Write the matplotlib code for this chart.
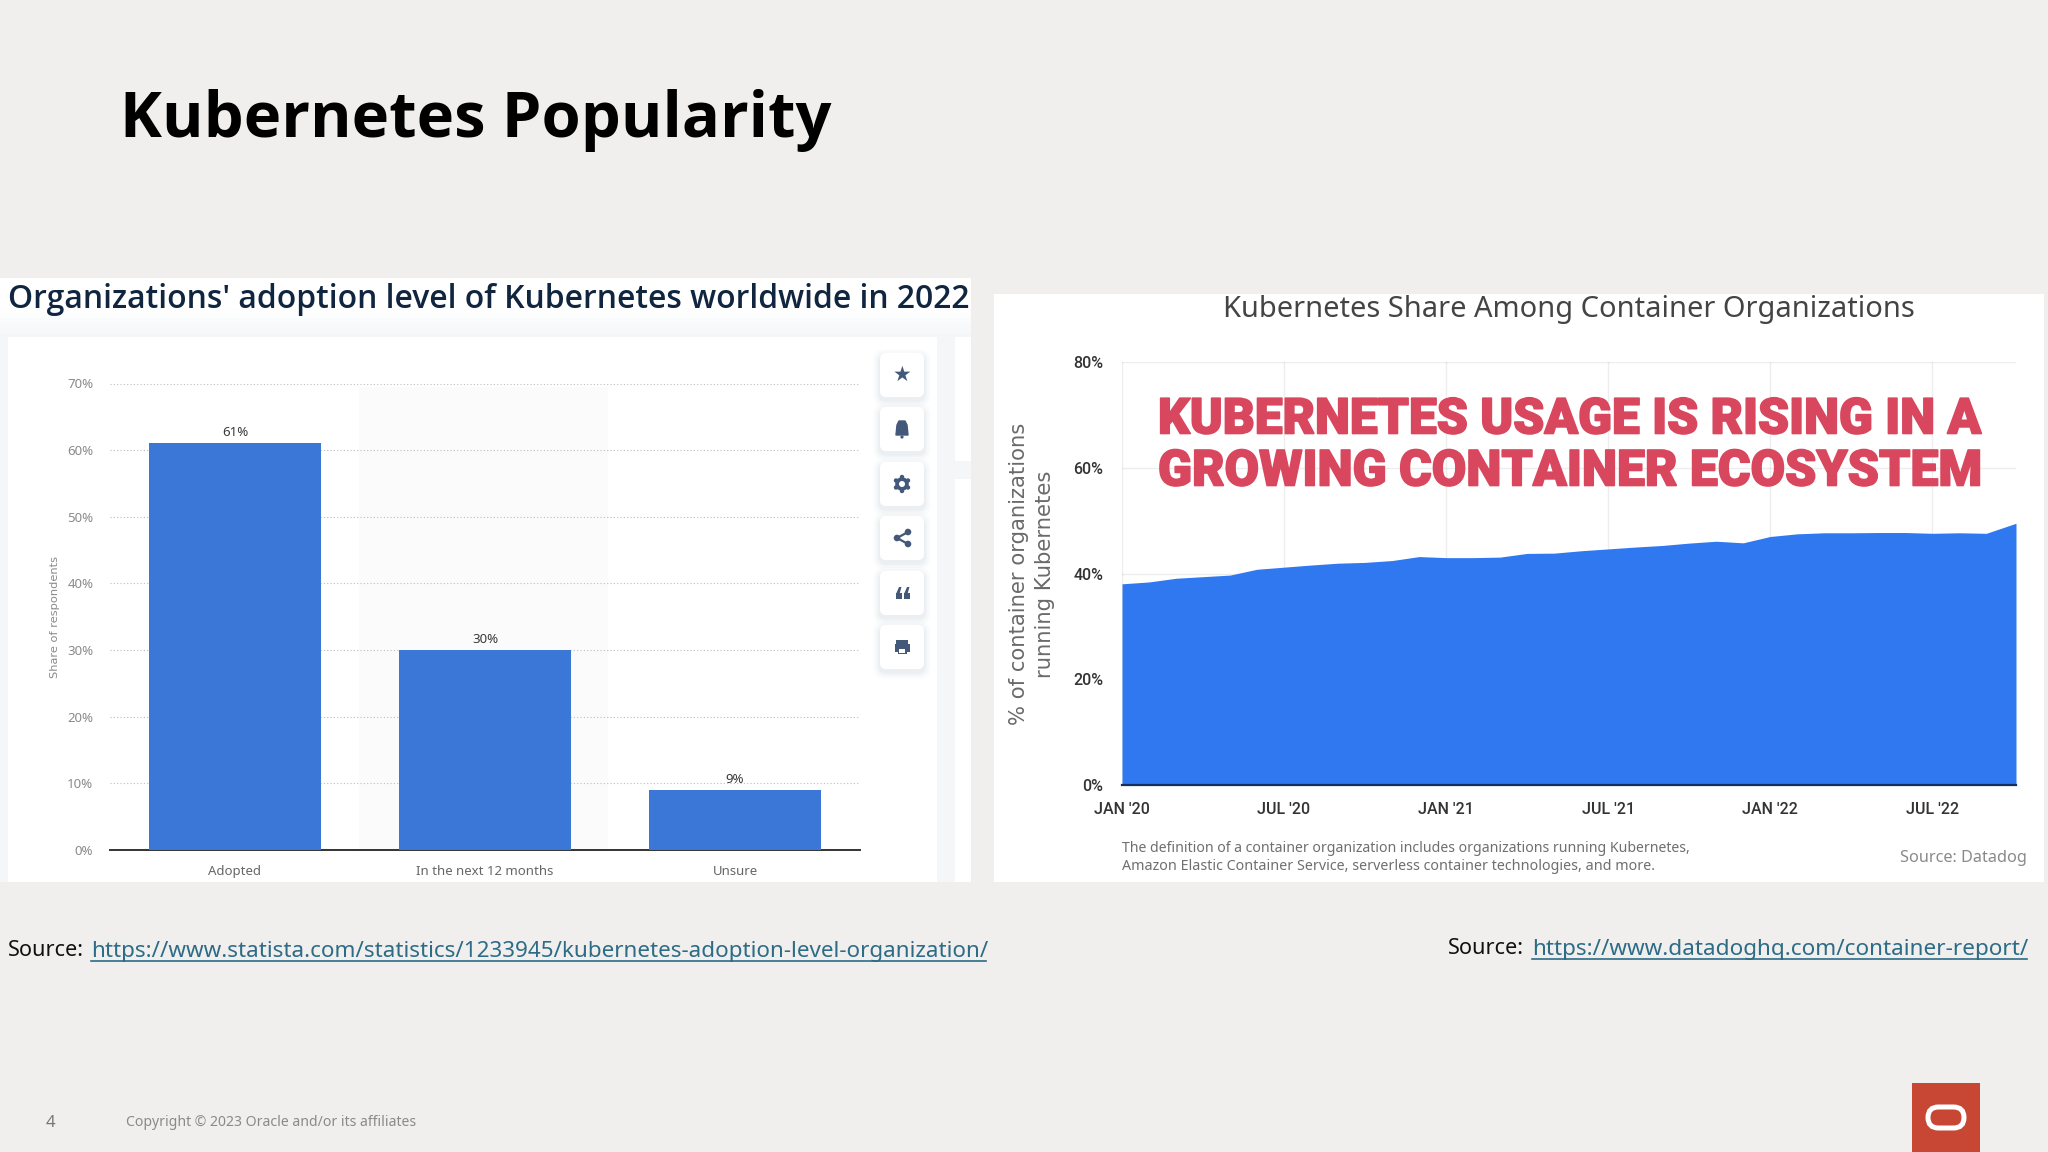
import matplotlib
matplotlib.use("Agg")
import matplotlib.pyplot as plt
import matplotlib.patheffects as pe
from matplotlib.patches import Rectangle, FancyBboxPatch, Circle, Polygon

# ---- data -------------------------------------------------------------
adoption_levels = ["Adopted", "In the next 12 months", "Unsure"]
adoption_shares = [61, 30, 9]
adoption_ticks = [0, 10, 20, 30, 40, 50, 60, 70]

month_index = list(range(33)) + [33.1]
share_running_k8s = [38.05, 38.4, 39.1, 39.4, 39.7, 40.8, 41.2, 41.6, 41.95, 42.1, 42.45, 43.2,
                     43.0, 43.0, 43.1, 43.8, 43.85, 44.3, 44.65, 45.0, 45.3, 45.75, 46.1, 45.8,
                     47.0, 47.5, 47.7, 47.7, 47.75, 47.75, 47.6, 47.7, 47.6, 49.5]
share_ticks = [0, 20, 40, 60, 80]
date_tick_pos = [0, 6, 12, 18, 24, 30]
date_tick_labels = ["JAN '20", "JUL '20", "JAN '21", "JUL '21", "JAN '22", "JUL '22"]

# ---- canvas -----------------------------------------------------------
W, H = 2048, 1152
BG = "#F0EFED"
fig = plt.figure(figsize=(W / 100, H / 100), dpi=100, facecolor=BG)
bg = fig.add_axes([0, 0, 1, 1], zorder=0)
bg.set_xlim(0, W); bg.set_ylim(H, 0); bg.axis("off")
top = fig.add_axes([0, 0, 1, 1], zorder=5)
top.set_xlim(0, W); top.set_ylim(H, 0); top.axis("off"); top.patch.set_alpha(0)
renderer = fig.canvas.get_renderer()


def rect(ax, x0, y0, x1, y1, color, z=1, **kw):
    ax.add_patch(Rectangle((x0, y0), x1 - x0, y1 - y0, fc=color, ec="none", zorder=z, **kw))


def txt(x, y, s, width=None, size=12, color="#000", family="Noto Sans", weight="normal",
        ha="left", va="center", rotation=0):
    t = top.text(x, y, s, fontsize=size, color=color, family=family, weight=weight,
                 ha=ha, va=va, rotation=rotation, rotation_mode="anchor" if rotation else "default")
    if width:
        e = t.get_window_extent(renderer)
        t.set_fontsize(size * width / max(e.width, e.height))
    return t


def px_axes(l, t, r, b):
    return fig.add_axes([l / W, 1 - b / H, (r - l) / W, (b - t) / H], zorder=2)


# ---- slide titles -----------------------------------------------------
txt(120, 121, "Kubernetes Popularity", width=710, weight="bold", color="#000000", family="Open Sans")

# ---- left panel -------------------------------------------------------
rect(bg, 0, 278, 971, 882, "#FFFFFF")
fade = ["#FEFEFE", "#FCFDFD", "#FAFBFC", "#F8F9FB", "#F6F8F9", "#F4F6F8"]
for k, c in enumerate(fade):
    rect(bg, 0, 308 + k * 5, 971, 882, c, z=1 + k * 0.01)
rect(bg, 8, 337, 937, 882, "#FFFFFF", z=2)
rect(bg, 955, 337, 971, 461, "#FFFFFF", z=2)
rect(bg, 955, 479, 971, 882, "#FFFFFF", z=2)
rect(bg, 359, 387, 608, 850, "#FBFBFB", z=3)
txt(8, 299, "Organizations' adoption level of Kubernetes worldwide in 2022", width=963,
    weight="semibold", color="#10253F", family="Open Sans")

axL = px_axes(110, 383.5, 860, 850)
axL.patch.set_alpha(0)
axL.bar(range(3), adoption_shares, width=0.688, color="#3B77D6", zorder=3)
axL.set_xlim(-0.5, 2.5)
axL.set_ylim(0, 70)
axL.set_yticks(adoption_ticks, [f"{v}%" for v in adoption_ticks])
axL.set_xticks(range(3), adoption_levels)
axL.grid(axis="y", color="#BDBDBD", lw=0.8, ls=(0, (1, 2)), zorder=1)
axL.tick_params(length=0, labelsize=9.5, labelcolor="#8A8A8A", pad=12)
axL.tick_params(axis="x", labelcolor="#666666", pad=11)
for lab in axL.get_xticklabels() + axL.get_yticklabels():
    lab.set_family("Noto Sans")
for s in ["top", "left", "right"]:
    axL.spines[s].set_visible(False)
axL.spines["bottom"].set_color("#333333")
axL.spines["bottom"].set_linewidth(1.4)
for i, v in enumerate(adoption_shares):
    axL.annotate(f"{v}%", (i, v), xytext=(0, 3), textcoords="offset points", ha="center",
                 va="bottom", fontsize=9.5, color="#3A3A3A", family="Noto Sans")
txt(55, 617, "Share of respondents", width=122, size=9, color="#8A8A8A", family="DejaVu Sans",
    ha="center", rotation=90)

# icon buttons
button_y = [375, 429, 484, 538, 593, 647]
ICON = "#44597A"
for y in button_y:
    for grow, a in [(7, .10), (5, .14), (3, .18), (1.5, .25)]:
        top.add_patch(FancyBboxPatch((880 - grow, y - 22 - grow + 3), 44 + 2 * grow, 44 + 2 * grow,
                                     boxstyle=f"round,pad=0,rounding_size={6 + grow}",
                                     fc="#DDE2E9", ec="none", zorder=1, alpha=a))
    top.add_patch(FancyBboxPatch((880, y - 22), 44, 44, boxstyle="round,pad=0,rounding_size=6",
                                 fc="#FFFFFF", ec="none", zorder=2))
top.text(902, button_y[0], "\u2605", fontsize=15, color=ICON, ha="center", va="center",
         family="DejaVu Sans", zorder=3)
y = button_y[1]
top.add_patch(Polygon([(896, y + 6), (897, y - 4), (899, y - 8), (905, y - 8), (907, y - 4), (908, y + 6)],
                      fc=ICON, ec=ICON, lw=1, joinstyle="round", zorder=3))
top.add_patch(Circle((902, y + 8), 1.6, fc=ICON, ec="none", zorder=3))
# gear: solid ring with teeth
y = button_y[2]
for dx, dy in [(0, 7), (0, -7), (6, 3.5), (-6, 3.5), (6, -3.5), (-6, -3.5)]:
    top.add_patch(Circle((902 + dx, y + dy), 2.2, fc=ICON, ec="none", zorder=3))
top.add_patch(Circle((902, y), 6.8, fc=ICON, ec="none", zorder=3))
top.add_patch(Circle((902, y), 3, fc="#FFFFFF", ec="none", zorder=4))
y = button_y[3]
top.plot([908, 897, 908], [y - 6, y, y + 6], color=ICON, lw=1.6, zorder=3)
for cx, cy in [(908, y - 6), (897, y), (908, y + 6)]:
    top.add_patch(Circle((cx, cy), 3.3, fc=ICON, ec="none", zorder=3))
# quote marks
y = button_y[4]
for x0 in (896, 904):
    rect(top, x0, y, x0 + 5.5, y + 5.5, ICON, z=3)
    top.add_patch(Polygon([(x0, y + 1), (x0 + 3, y - 6), (x0 + 5.5, y - 6), (x0 + 3.5, y + 1)],
                          fc=ICON, ec="none", zorder=3))
y = button_y[5]
rect(top, 896, y - 7, 908, y - 2, ICON, z=3)
rect(top, 894.5, y - 3, 909.5, y + 5, ICON, z=3)
rect(top, 897.5, y + 1, 906.5, y + 7, ICON, z=3)
rect(top, 899, y + 2, 905, y + 5.5, "#FFFFFF", z=3)

# ---- right panel ------------------------------------------------------
rect(bg, 994, 294, 2044, 882, "#FFFFFF")
txt(1223, 310, "Kubernetes Share Among Container Organizations", width=689, color="#444444",
    family="Noto Sans")

axR = px_axes(1122, 362, 2016, 785)
axR.patch.set_alpha(0)
axR.fill_between(month_index, share_running_k8s, 0, color="#2F78F0", lw=0, zorder=2)
axR.set_xlim(0, 33.1)
axR.set_ylim(0, 80)
axR.set_yticks(share_ticks, [f"{v}%" for v in share_ticks])
axR.set_xticks(date_tick_pos, date_tick_labels)
axR.grid(True, color="#000000", alpha=0.07, lw=1, zorder=3)
axR.tick_params(length=0, labelsize=11.5, labelcolor="#333333")
axR.tick_params(axis="y", pad=13.5)
axR.tick_params(axis="x", pad=12.5)
for lab in axR.get_xticklabels() + axR.get_yticklabels():
    lab.set_family("Roboto")
    lab.set_weight("medium")
for s in ["top", "left", "right"]:
    axR.spines[s].set_visible(False)
axR.spines["bottom"].set_color("#12305F")
axR.spines["bottom"].set_linewidth(1.6)
axR.spines["bottom"].set_zorder(4)

for yy, line, wd in [(420, "KUBERNETES USAGE IS RISING IN A", 822), (472, "GROWING CONTAINER ECOSYSTEM", 823)]:
    t = txt(1158, yy, line, width=wd, color="#D9475F", family="Roboto", weight="black")
    t.set_path_effects([pe.withStroke(linewidth=1.2, foreground="#D9475F")])
txt(1019, 574, "% of container organizations", width=302, color="#6A6A6A", family="DejaVu Sans",
    ha="center", rotation=90)
txt(1045, 574, "running Kubernetes", width=207, color="#6A6A6A", family="DejaVu Sans",
    ha="center", rotation=90)
txt(1122, 849, "The definition of a container organization includes organizations running Kubernetes,",
    width=566, color="#6F6F6F")
txt(1122, 867, "Amazon Elastic Container Service, serverless container technologies, and more.",
    width=528, color="#6F6F6F")
txt(1900, 858, "Source: Datadog", width=127, color="#8A8A8A")

# ---- sources ----------------------------------------------------------
LINK = "#2D6C86"
txt(8, 951, "Source:", width=76, color="#111111")
txt(91, 951, "https://www.statista.com/statistics/1233945/kubernetes-adoption-level-organization/",
    width=895, color=LINK)
top.plot([91, 986], [961, 961], color=LINK, lw=1.2)
txt(1448, 949, "Source:", width=76, color="#111111")
txt(1532, 949, "https://www.datadoghq.com/container-report/", width=495, color=LINK)
top.plot([1532, 2027], [959, 959], color=LINK, lw=1.2)

# ---- footer -----------------------------------------------------------
txt(46, 1123, "4", size=12, color="#777777")
txt(126, 1123, "Copyright \u00a9 2023 Oracle and/or its affiliates", width=289, color="#8A8A8A")
rect(top, 1912, 1083, 1980, 1152, "#C74634", z=2)
top.add_patch(FancyBboxPatch((1928, 1107), 36, 21, boxstyle="round,pad=0,rounding_size=10.5",
                             fc="none", ec="#FFFFFF", lw=3.6, zorder=3))

fig.savefig("out.png", dpi=100, facecolor=BG)
